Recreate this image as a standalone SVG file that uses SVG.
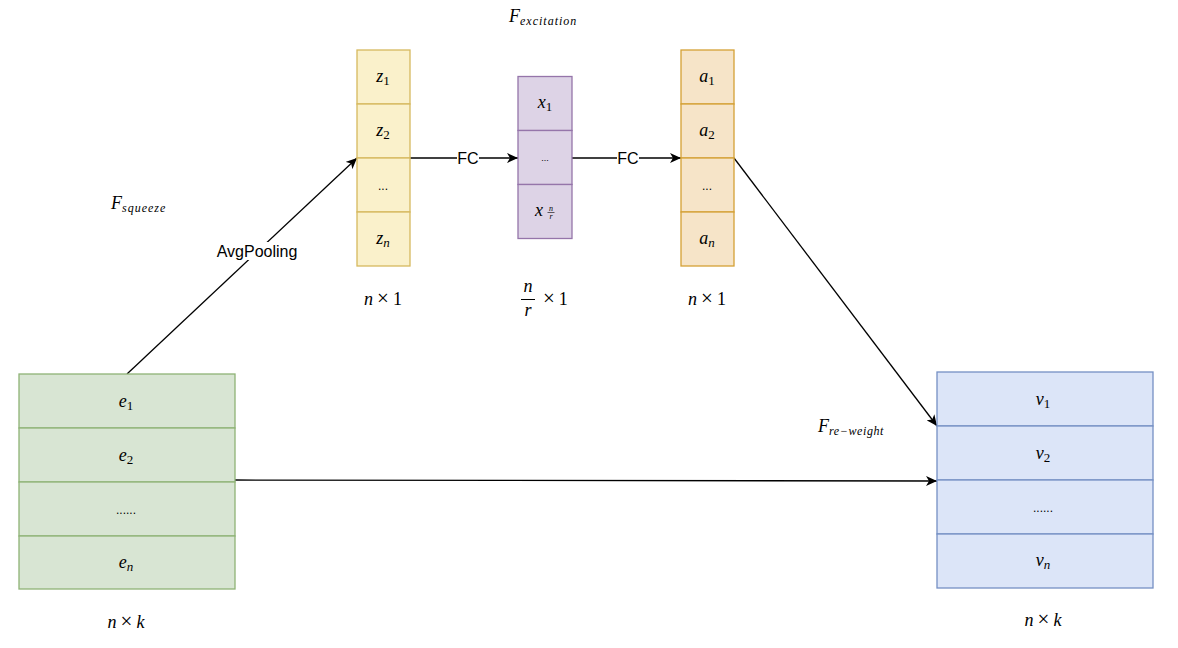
<svg xmlns="http://www.w3.org/2000/svg" width="1178" height="648" viewBox="0 0 1178 648">
<style>
.m{font-family:"Liberation Serif","DejaVu Serif",serif;font-style:italic;font-size:18px;fill:#000}
.u{font-style:normal}
.t{font-style:normal;font-size:21px}
.s{font-family:"Liberation Sans",Arial,sans-serif;font-size:16px;fill:#000}
.d{font-family:"Liberation Sans",Arial,sans-serif;font-size:12px;fill:#000}
.green rect{fill:#d8e5d3;stroke:#8fb376;stroke-width:1.3}
.yellow rect{fill:#faf1cb;stroke:#d6b95e;stroke-width:1.3}
.purple rect{fill:#ddd3e6;stroke:#9575aa;stroke-width:1.3}
.orange rect{fill:#f6e4c8;stroke:#d4a035;stroke-width:1.3}
.blue rect{fill:#dce5f8;stroke:#7590c4;stroke-width:1.3}
.edge{stroke:#000;stroke-width:1.3;fill:none;marker-end:url(#arr)}
.lbg{fill:#fff}
</style>
<defs>
<marker id="arr" markerUnits="userSpaceOnUse" markerWidth="12" markerHeight="10" refX="11" refY="5" orient="auto">
<path d="M0,0 L11,5 L0,10 L3,5 Z" fill="#000"/>
</marker>
</defs>
<rect width="1178" height="648" fill="#fff"/>

<g id="connectors">
<line class="edge" x1="127" y1="374" x2="357" y2="158"/>
<line class="edge" x1="410" y1="158" x2="518" y2="158"/>
<line class="edge" x1="572" y1="158" x2="681" y2="158"/>
<line class="edge" x1="734" y1="158" x2="937" y2="426"/>
<line class="edge" x1="235" y1="480" x2="937" y2="481"/>
<rect class="lbg" x="215" y="242" width="83" height="18"/>
<text class="s" x="257" y="257" text-anchor="middle">AvgPooling</text>
<rect class="lbg" x="457" y="150" width="22" height="16"/>
<text class="s" x="468" y="164" text-anchor="middle">FC</text>
<rect class="lbg" x="617" y="150" width="22" height="16"/>
<text class="s" x="628" y="164" text-anchor="middle">FC</text>
</g>

<g id="node-e" class="green">
<rect x="19" y="374" width="216" height="54"/>
<rect x="19" y="428" width="216" height="54"/>
<rect x="19" y="482" width="216" height="54"/>
<rect x="19" y="536" width="216" height="53"/>
<text class="m" x="126" y="407" text-anchor="middle">e<tspan class="u" font-size="13" dy="3">1</tspan></text>
<text class="m" x="126" y="461" text-anchor="middle">e<tspan class="u" font-size="13" dy="3">2</tspan></text>
<text class="d" x="126" y="514" text-anchor="middle">......</text>
<text class="m" x="126" y="568" text-anchor="middle">e<tspan font-size="13" dy="3">n</tspan></text>
</g>

<g id="node-z" class="yellow">
<rect x="357" y="50" width="53" height="54"/>
<rect x="357" y="104" width="53" height="54"/>
<rect x="357" y="158" width="53" height="54"/>
<rect x="357" y="212" width="53" height="54"/>
<text class="m" x="383" y="82" text-anchor="middle">z<tspan class="u" font-size="13" dy="3">1</tspan></text>
<text class="m" x="383" y="136" text-anchor="middle">z<tspan class="u" font-size="13" dy="3">2</tspan></text>
<text class="d" x="383" y="190" text-anchor="middle">...</text>
<text class="m" x="383" y="244" text-anchor="middle">z<tspan font-size="13" dy="3">n</tspan></text>
</g>

<g id="node-x" class="purple">
<rect x="518" y="76.5" width="54" height="54"/>
<rect x="518" y="130.5" width="54" height="54"/>
<rect x="518" y="184.5" width="54" height="54"/>
<text class="m" x="545" y="108" text-anchor="middle">x<tspan class="u" font-size="13" dy="3">1</tspan></text>
<text class="d" x="545" y="161" text-anchor="middle" style="font-size:9px">...</text>
<text class="m" x="539" y="216" text-anchor="middle">x</text>
<text class="m" x="551" y="210.5" text-anchor="middle" style="font-size:8px">n</text>
<line x1="547.5" y1="212.5" x2="554.5" y2="212.5" stroke="#000" stroke-width="0.6"/>
<text class="m" x="551" y="218.5" text-anchor="middle" style="font-size:8px">r</text>
</g>

<g id="node-a" class="orange">
<rect x="681" y="50" width="53" height="54"/>
<rect x="681" y="104" width="53" height="54"/>
<rect x="681" y="158" width="53" height="54"/>
<rect x="681" y="212" width="53" height="54"/>
<text class="m" x="707" y="82" text-anchor="middle">a<tspan class="u" font-size="13" dy="3">1</tspan></text>
<text class="m" x="707" y="136" text-anchor="middle">a<tspan class="u" font-size="13" dy="3">2</tspan></text>
<text class="d" x="707" y="190" text-anchor="middle">...</text>
<text class="m" x="707" y="244" text-anchor="middle">a<tspan font-size="13" dy="3">n</tspan></text>
</g>

<g id="node-v" class="blue">
<rect x="937" y="372" width="216" height="54"/>
<rect x="937" y="426" width="216" height="54"/>
<rect x="937" y="480" width="216" height="54"/>
<rect x="937" y="534" width="216" height="54"/>
<text class="m" x="1043" y="405" text-anchor="middle">v<tspan class="u" font-size="13" dy="3">1</tspan></text>
<text class="m" x="1043" y="459" text-anchor="middle">v<tspan class="u" font-size="13" dy="3">2</tspan></text>
<text class="d" x="1043" y="512" text-anchor="middle">......</text>
<text class="m" x="1043" y="566" text-anchor="middle">v<tspan font-size="13" dy="3">n</tspan></text>
</g>

<g id="labels">
<text class="m" x="509" y="22">F<tspan font-size="12" dy="3" letter-spacing="1">excitation</tspan></text>
<text class="m" x="111" y="209">F<tspan font-size="12" dy="3" letter-spacing="1">squeeze</tspan></text>
<text class="m" x="818" y="432">F<tspan font-size="12" dy="3" letter-spacing="0.6">re−weight</tspan></text>
<text class="m" x="383" y="305" text-anchor="middle">n<tspan class="t" dx="4">×</tspan><tspan class="u" dx="4">1</tspan></text>
<text class="m" x="707" y="305" text-anchor="middle">n<tspan class="t" dx="4">×</tspan><tspan class="u" dx="4">1</tspan></text>
<text class="m" x="528" y="292" text-anchor="middle">n</text>
<line x1="521" y1="299.5" x2="535" y2="299.5" stroke="#000" stroke-width="1"/>
<text class="m" x="528" y="316" text-anchor="middle">r</text>
<text class="m" x="543" y="305"><tspan class="t">×</tspan><tspan class="u" dx="4">1</tspan></text>
<text class="m" x="126" y="628" text-anchor="middle">n<tspan class="t" dx="4">×</tspan><tspan dx="4">k</tspan></text>
<text class="m" x="1043" y="626" text-anchor="middle">n<tspan class="t" dx="4">×</tspan><tspan dx="4">k</tspan></text>
</g>
</svg>
